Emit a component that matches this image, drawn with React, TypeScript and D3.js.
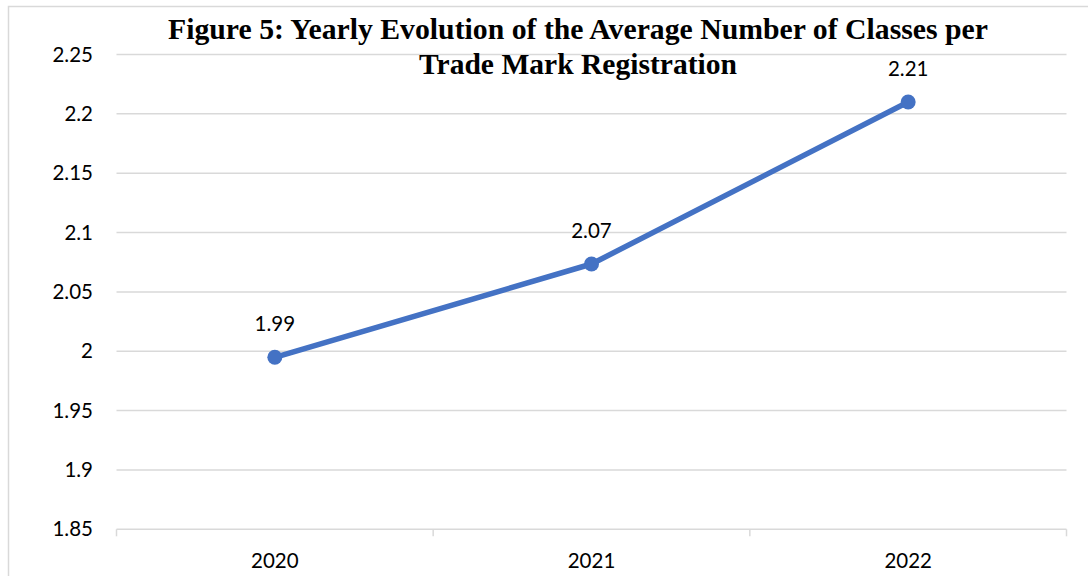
import React from "react";
import * as d3 from "d3";

// Average number of classes per trade mark registration, by year
const years: string[] = ["2020", "2021", "2022"];
const avgClasses: number[] = [1.9949, 2.0735, 2.21];
const yTicks: number[] = [1.85, 1.9, 1.95, 2.0, 2.05, 2.1, 2.15, 2.2, 2.25];
const titleLines: string[] = [
  "Figure 5: Yearly Evolution of the Average Number of Classes per",
  "Trade Mark Registration",
];

const W = 1088;
const H = 576;
const plot = { left: 116.5, right: 1066.5, top: 54.5, bottom: 529.3 };
const numFont = "Lato, 'Open Sans', sans-serif";
const lineColor = "#4472C4";
const gridColor = "#d9d9d9";

export default function App() {
  const x = d3
    .scaleBand<string>()
    .domain(years)
    .range([plot.left, plot.right])
    .paddingInner(0)
    .paddingOuter(0);
  const y = d3.scaleLinear().domain([1.85, 2.25]).range([plot.bottom, plot.top]);
  const cx = (d: string) => (x(d) as number) + x.bandwidth() / 2;

  const pts: [number, number][] = years.map((yr, i) => [cx(yr), y(avgClasses[i])]);
  const path = d3.line()(pts) || "";
  const fmtLabel = d3.format(".2f");
  const fmtTick = (v: number) => String(+v.toFixed(2));

  const boundaries = [...years.map((yr) => x(yr) as number), plot.right];

  return (
    <svg
      width={W}
      height={H}
      style={{ position: "absolute", left: 0, top: 0, display: "block", background: "#fff" }}
    >
      {/* chart area frame */}
      <rect x={8.5} y={6.5} width={W + 20} height={H + 20} fill="#fff" stroke={gridColor} strokeWidth={1.5} />

      {/* horizontal gridlines */}
      {yTicks.map((t) => (
        <line
          key={t}
          x1={plot.left}
          x2={plot.right}
          y1={y(t)}
          y2={y(t)}
          stroke={gridColor}
          strokeWidth={1.5}
        />
      ))}

      {/* category tick marks */}
      {boundaries.map((bx, i) => (
        <line key={i} x1={bx} x2={bx} y1={plot.bottom} y2={plot.bottom + 7} stroke={gridColor} strokeWidth={1.5} />
      ))}

      {/* y tick labels */}
      {yTicks.map((t) => (
        <text
          key={t}
          x={93}
          y={y(t) + 7}
          textAnchor="end"
          fontFamily={numFont}
          fontSize={20.5}
          fill="#000"
        >
          {fmtTick(t)}
        </text>
      ))}

      {/* x tick labels */}
      {years.map((yr) => (
        <text key={yr} x={cx(yr)} y={568} textAnchor="middle" fontFamily={numFont} fontSize={20.5} fill="#000">
          {yr}
        </text>
      ))}

      {/* series line */}
      <path d={path} fill="none" stroke={lineColor} strokeWidth={5.5} strokeLinejoin="round" strokeLinecap="round" />
      {pts.map(([px, py], i) => (
        <circle key={i} cx={px} cy={py} r={7.5} fill={lineColor} />
      ))}

      {/* data labels */}
      {pts.map(([px, py], i) => (
        <text key={i} x={px} y={py - 26} textAnchor="middle" fontFamily={numFont} fontSize={20.5} fill="#000">
          {fmtLabel(avgClasses[i])}
        </text>
      ))}

      {/* title */}
      <text
        x={578}
        y={39}
        textAnchor="middle"
        fontFamily="'Liberation Serif', 'Times New Roman', serif"
        fontWeight="bold"
        fontSize={29.5}
        textLength={820}
        lengthAdjust="spacingAndGlyphs"
        fill="#000"
      >
        {titleLines[0]}
      </text>
      <text
        x={578}
        y={74}
        textAnchor="middle"
        fontFamily="'Liberation Serif', 'Times New Roman', serif"
        fontWeight="bold"
        fontSize={29.5}
        textLength={318}
        lengthAdjust="spacingAndGlyphs"
        fill="#000"
      >
        {titleLines[1]}
      </text>
    </svg>
  );
}
